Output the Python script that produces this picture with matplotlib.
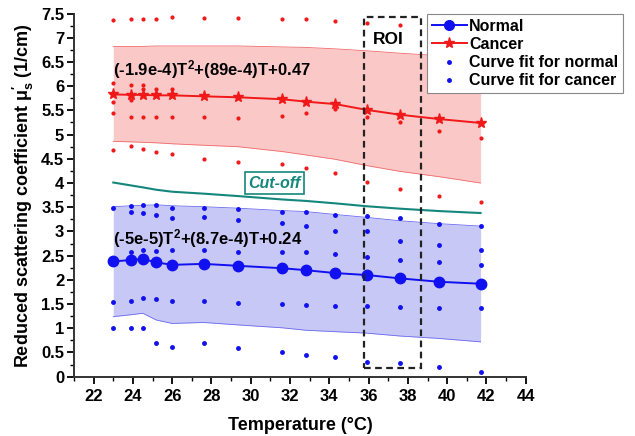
import numpy as np
import matplotlib
matplotlib.use("Agg")
import matplotlib.pyplot as plt
from matplotlib.lines import Line2D
from matplotlib.patches import Rectangle
from matplotlib.ticker import MultipleLocator

plt.rcParams['font.family'] = ['Liberation Sans', 'DejaVu Sans']
plt.rcParams['font.weight'] = 'bold'
plt.rcParams['mathtext.fontset'] = 'custom'
plt.rcParams['mathtext.rm'] = 'Liberation Sans:bold'
plt.rcParams['mathtext.it'] = 'Liberation Sans:bold'
plt.rcParams['mathtext.bf'] = 'Liberation Sans:bold'

# temperatures (deg C)
temp = [23.0, 23.9, 24.5, 25.2, 26.0, 27.6, 29.35, 31.6, 32.8, 34.3, 35.9, 37.6, 39.6, 41.7]

# mean values
normal = [2.38, 2.41, 2.43, 2.36, 2.31, 2.33, 2.29, 2.24, 2.20, 2.14, 2.10, 2.03, 1.96, 1.92]
cancer = [5.83, 5.82, 5.82, 5.81, 5.81, 5.79, 5.77, 5.73, 5.68, 5.63, 5.51, 5.41, 5.32, 5.24]

# shaded bands
normal_hi = [3.51, 3.53, 3.54, 3.55, 3.53, 3.51, 3.48, 3.43, 3.41, 3.35, 3.29, 3.22, 3.16, 3.11]
normal_lo = [1.24, 1.28, 1.31, 1.17, 1.10, 1.12, 1.07, 1.01, 0.96, 0.93, 0.90, 0.84, 0.79, 0.72]
cancer_hi = [6.82, 6.82, 6.82, 6.83, 6.83, 6.83, 6.83, 6.81, 6.80, 6.77, 6.73, 6.68, 6.63, 6.58]
cancer_lo = [4.86, 4.85, 4.84, 4.83, 4.81, 4.78, 4.75, 4.65, 4.58, 4.49, 4.36, 4.24, 4.13, 4.00]

cutoff = [4.01, 3.95, 3.91, 3.86, 3.82, 3.78, 3.73, 3.66, 3.63, 3.58, 3.52, 3.47, 3.42, 3.38]

# curve fit points (temperature, value)
fit_normal_t = [23.0, 23.0, 23.0,
                23.9, 23.9, 23.9, 23.9, 23.9,
                24.5, 24.5, 24.5, 24.5, 24.5,
                25.2, 25.2, 25.2, 25.2, 25.2,
                26.0, 26.0, 26.0, 26.0, 26.0,
                27.6, 27.6, 27.6, 27.6, 27.6,
                29.35, 29.35, 29.35, 29.35, 29.35,
                31.6, 31.6, 31.6, 31.6, 31.6,
                32.8, 32.8, 32.8, 32.8, 32.8,
                34.3, 34.3, 34.3, 34.3, 34.3,
                35.9, 35.9, 35.9, 35.9, 35.9,
                37.6, 37.6, 37.6, 37.6, 37.6,
                39.6, 39.6, 39.6, 39.6, 39.6,
                41.7, 41.7, 41.7, 41.7, 41.7]
fit_normal_v = [3.48, 1.55, 1.00,
                3.53, 3.41, 2.57, 1.56, 1.00,
                3.55, 3.38, 2.62, 1.63, 1.00,
                3.55, 3.34, 2.60, 1.60, 0.70,
                3.48, 3.27, 2.62, 1.57, 0.62,
                3.48, 3.29, 2.62, 1.56, 0.69,
                3.47, 3.24, 2.58, 1.53, 0.60,
                3.41, 3.18, 2.58, 1.50, 0.52,
                3.40, 3.11, 2.57, 1.48, 0.45,
                3.34, 3.00, 2.53, 1.45, 0.40,
                3.31, 3.00, 2.47, 1.46, 0.31,
                3.27, 2.81, 2.41, 1.43, 0.28,
                3.15, 2.72, 2.36, 1.41, 0.21,
                3.12, 2.62, 2.31, 1.41, 0.10]

fit_cancer_t = [23.0, 23.0, 23.0, 23.0, 23.0,
                23.9, 23.9, 23.9, 23.9, 23.9,
                24.5, 24.5, 24.5, 24.5, 24.5,
                25.2, 25.2, 25.2, 25.2,
                26.0, 26.0, 26.0, 26.0, 26.0,
                27.6, 27.6, 27.6,
                29.35, 29.35, 29.35,
                31.6, 31.6, 31.6,
                32.8, 32.8, 32.8,
                34.3, 34.3, 34.3,
                35.9, 35.9, 35.9,
                37.6, 37.6, 37.6,
                39.6, 39.6, 39.6,
                41.7, 41.7, 41.7]
fit_cancer_v = [7.36, 6.07, 5.67, 5.45, 4.68,
                7.38, 6.03, 5.72, 5.36, 4.77,
                7.38, 6.03, 5.94, 5.36, 4.71,
                7.38, 5.94, 5.36, 4.65,
                7.42, 5.94, 5.85, 5.37, 4.60,
                7.40, 5.37, 4.49,
                7.41, 5.35, 4.44,
                7.38, 5.39, 4.39,
                7.38, 5.45, 4.31,
                7.35, 5.52, 4.21,
                7.31, 5.37, 4.03,
                7.27, 5.26, 3.88,
                7.22, 5.08, 3.73,
                7.18, 4.92, 3.60]

x_ticks = [22, 24, 26, 28, 30, 32, 34, 36, 38, 40, 42, 44]
y_ticks = [0, 0.5, 1, 1.5, 2, 2.5, 3, 3.5, 4, 4.5, 5, 5.5, 6, 6.5, 7, 7.5]
y_ticklabels = ['0', '0.5', '1', '1.5', '2', '2.5', '3', '3.5', '4', '4.5',
                '5', '5.5', '6', '6.5', '7', '7.5']

blue = '#1010f0'
red = '#f01818'
teal = '#14877c'

fig = plt.figure(figsize=(6.35, 4.36), dpi=100)
ax = fig.add_axes([0.1165, 0.136, 0.7115, 0.833])

ax.fill_between(temp, cancer_lo, cancer_hi, color='#fbc8c8', lw=0)
ax.plot(temp, cancer_hi, color='#f06a6a', lw=0.6)
ax.plot(temp, cancer_lo, color='#f06a6a', lw=0.6)
ax.fill_between(temp, normal_lo, normal_hi, color='#c8c8f6', lw=0)
ax.plot(temp, normal_hi, color='#6a6af0', lw=0.6)
ax.plot(temp, normal_lo, color='#6a6af0', lw=0.6)

ax.plot(temp, cutoff, color=teal, lw=1.5)

ax.plot(fit_cancer_t, fit_cancer_v, 'o', color=red, ms=2.0, ls='none')
ax.plot(fit_normal_t, fit_normal_v, 'o', color=blue, ms=2.5, ls='none')

ax.plot(temp, cancer, '-*', color=red, ms=8, lw=1.4)
ax.plot(temp, normal, '-o', color=blue, ms=7.5, lw=1.4)

# ROI box
ax.add_patch(Rectangle((35.76, 0.17), 38.67 - 35.76, 7.43 - 0.17, fill=False,
                       ls=(0, (3, 2)), lw=1.6, ec='#222222', zorder=5))
ax.text(37.0, 6.96, 'ROI', fontsize=12.5, fontweight='bold', ha='center', va='center')

ax.text(23.0, 6.34, r'(-1.9e-4)T$^2$+(89e-4)T+0.47', fontsize=12,
        fontweight='bold', ha='left', va='center')
ax.text(23.0, 2.86, r'(-5e-5)T$^2$+(8.7e-4)T+0.24', fontsize=12,
        fontweight='bold', ha='left', va='center')
ax.text(31.2, 4.0, 'Cut-off', fontsize=11.5, fontweight='bold', style='italic',
        color=teal, ha='center', va='center',
        bbox=dict(boxstyle='square,pad=0.2', fc='white', ec=teal, lw=1.2))

ax.set_xlim(21, 44)
ax.set_ylim(0, 7.5)
ax.set_xticks(x_ticks)
ax.set_xticklabels([str(v) for v in x_ticks])
ax.set_yticks(y_ticks)
ax.set_yticklabels(y_ticklabels)
ax.xaxis.set_minor_locator(MultipleLocator(1))
ax.yaxis.set_minor_locator(MultipleLocator(0.25))
ax.tick_params(which='major', direction='out', length=5, width=1.3, labelsize=12)
ax.tick_params(which='minor', direction='out', length=3, width=1.0)
ax.tick_params(axis='y', pad=2)
for lab in ax.get_xticklabels() + ax.get_yticklabels():
    lab.set_fontweight('bold')
ax.spines['top'].set_visible(False)
ax.spines['right'].set_visible(False)
for s in ['left', 'bottom']:
    ax.spines[s].set_linewidth(1.4)
    ax.spines[s].set_color('#333333')

ax.set_xlabel('Temperature (°C)', fontsize=13, fontweight='bold', labelpad=10)
ax.set_ylabel(r'Reduced scattering coefficient μ$_{\mathrm{s}}^{\prime}$ (1/cm)',
              fontsize=13, fontweight='bold', labelpad=4)

handles = [
    Line2D([], [], color=blue, marker='o', ms=7, lw=1.4),
    Line2D([], [], color=red, marker='*', ms=8, lw=1.4),
    Line2D([], [], color=blue, marker='o', ms=2.5, ls='none'),
    Line2D([], [], color=blue, marker='o', ms=2.5, ls='none'),
]
labels = ['Normal', 'Cancer', 'Curve fit for normal', 'Curve fit for cancer']
leg = fig.legend(handles, labels, loc='upper left', bbox_to_anchor=(0.672, 0.968),
                 frameon=True, fancybox=False, handlelength=2.2,
                 handletextpad=0.15, borderpad=0.3, labelspacing=0.2,
                 borderaxespad=0, prop={'weight': 'bold', 'size': 11.5})
leg.get_frame().set_edgecolor('#888888')
leg.get_frame().set_linewidth(0.8)
leg.get_frame().set_alpha(1)
leg.set_zorder(10)

fig.savefig('out.png', dpi=100)
